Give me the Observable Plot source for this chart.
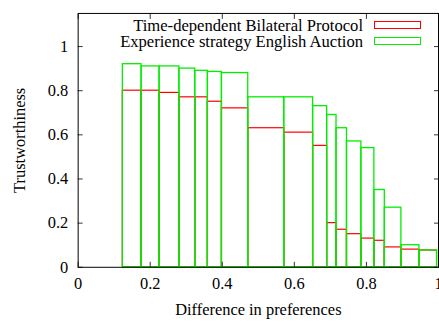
<!DOCTYPE html>
<html>
<head>
<meta charset="utf-8">
<script src="https://cdn.jsdelivr.net/npm/d3@7"></script>
<script src="https://cdn.jsdelivr.net/npm/@observablehq/plot@0.6"></script>
<style>
  html, body { margin: 0; padding: 0; background: #fff; overflow: hidden; }
  #wrap { position: relative; width: 439px; height: 322px; overflow: hidden; }
  #legend { position: absolute; font-family: "Liberation Serif", serif; font-size: 16.6px; line-height: 15.5px; color: #000; }
  .row { position: absolute; right: 0; display: flex; align-items: center; white-space: nowrap; height: 15.5px; }
  .sw { display: inline-block; width: 47px; height: 8px; margin-left: 11px; box-sizing: border-box; }
</style>
</head>
<body>
<div id="wrap"></div>
<script>
// Bin boundaries along "Difference in preferences"
const binEdges = [0.124, 0.176, 0.226, 0.281, 0.325, 0.360, 0.399, 0.472, 0.572, 0.652, 0.691, 0.717, 0.746, 0.786, 0.822, 0.851, 0.897, 0.947, 0.996];
// Series values (trustworthiness), one per bin
const bilateral = [0.80, 0.80, 0.79, 0.77, 0.77, 0.75, 0.72, 0.63, 0.61, 0.55, 0.20, 0.17, 0.15, 0.13, 0.12, 0.09, 0.08, 0.076];
const english   = [0.92, 0.91, 0.91, 0.90, 0.89, 0.885, 0.88, 0.77, 0.77, 0.73, 0.69, 0.63, 0.57, 0.54, 0.35, 0.27, 0.10, 0.076];
const seriesNames = ["Time-dependent Bilateral Protocol", "Experience strategy English Auction"];
const seriesColors = ["#ff0000", "#00ee00"];
// Tick values and labels
const xTicks = [0, 0.2, 0.4, 0.6, 0.8, 1];
const xTickLabels = ["0", "0.2", "0.4", "0.6", "0.8", "1"];
const yTicks = [0, 0.2, 0.4, 0.6, 0.8, 1];
const yTickLabels = ["0", "0.2", "0.4", "0.6", "0.8", "1"];

const mk = vals => vals.map((v, i) => ({x1: binEdges[i], x2: binEdges[i + 1], y: v}));
const redData = mk(bilateral);
const greenData = mk(english);

const tickColor = "#333";
const plot = Plot.plot({
  width: 441,
  height: 322,
  marginLeft: 78,
  marginRight: 1,
  marginTop: 13,
  marginBottom: 54,
  style: {fontFamily: "Liberation Serif, serif", fontSize: "16.5px", background: "#fff", color: "#000"},
  x: {domain: [0, 1]},
  y: {domain: [0, 1.15]},
  marks: [
    Plot.rectY(redData, {x1: "x1", x2: "x2", y1: 0, y2: "y", fill: "none", stroke: seriesColors[0], strokeWidth: 1.2}),
    Plot.rectY(greenData, {x1: "x1", x2: "x2", y1: 0, y2: "y", fill: "none", stroke: seriesColors[1], strokeWidth: 1.3}),
    Plot.axisX({anchor: "bottom", ticks: xTicks, tickSize: -5, tickPadding: 15, stroke: tickColor,
      tickFormat: (d, i) => xTickLabels[i], label: "Difference in preferences", labelAnchor: "center", labelArrow: "none", labelOffset: 48}),
    Plot.axisX({anchor: "top", ticks: xTicks, tickSize: -5, text: null, label: null, stroke: tickColor}),
    Plot.axisY({anchor: "left", ticks: yTicks, tickSize: -5, tickPadding: 15, stroke: tickColor,
      tickFormat: (d, i) => yTickLabels[i], label: "Trustworthiness", labelAnchor: "center", labelArrow: "none", labelOffset: 65}),
    Plot.axisY({anchor: "right", ticks: yTicks, tickSize: -5, text: null, label: null, stroke: tickColor}),
    Plot.frame({stroke: "#000", strokeWidth: 1})
  ]
});
const wrap = document.getElementById("wrap");
wrap.appendChild(plot);

// Legend inside the frame, top right
const legend = document.createElement("div");
legend.id = "legend";
legend.style.left = "0px";
legend.style.top = "0px";
legend.style.width = "421px";
seriesNames.forEach((name, i) => {
  const row = document.createElement("div");
  row.className = "row";
  row.style.top = (17.5 + i * 16) + "px";
  const t = document.createElement("span");
  t.textContent = name;
  const sw = document.createElement("span");
  sw.className = "sw";
  sw.style.border = "1.3px solid " + seriesColors[i];
  row.appendChild(t);
  row.appendChild(sw);
  legend.appendChild(row);
});
wrap.appendChild(legend);
</script>
</body>
</html>
